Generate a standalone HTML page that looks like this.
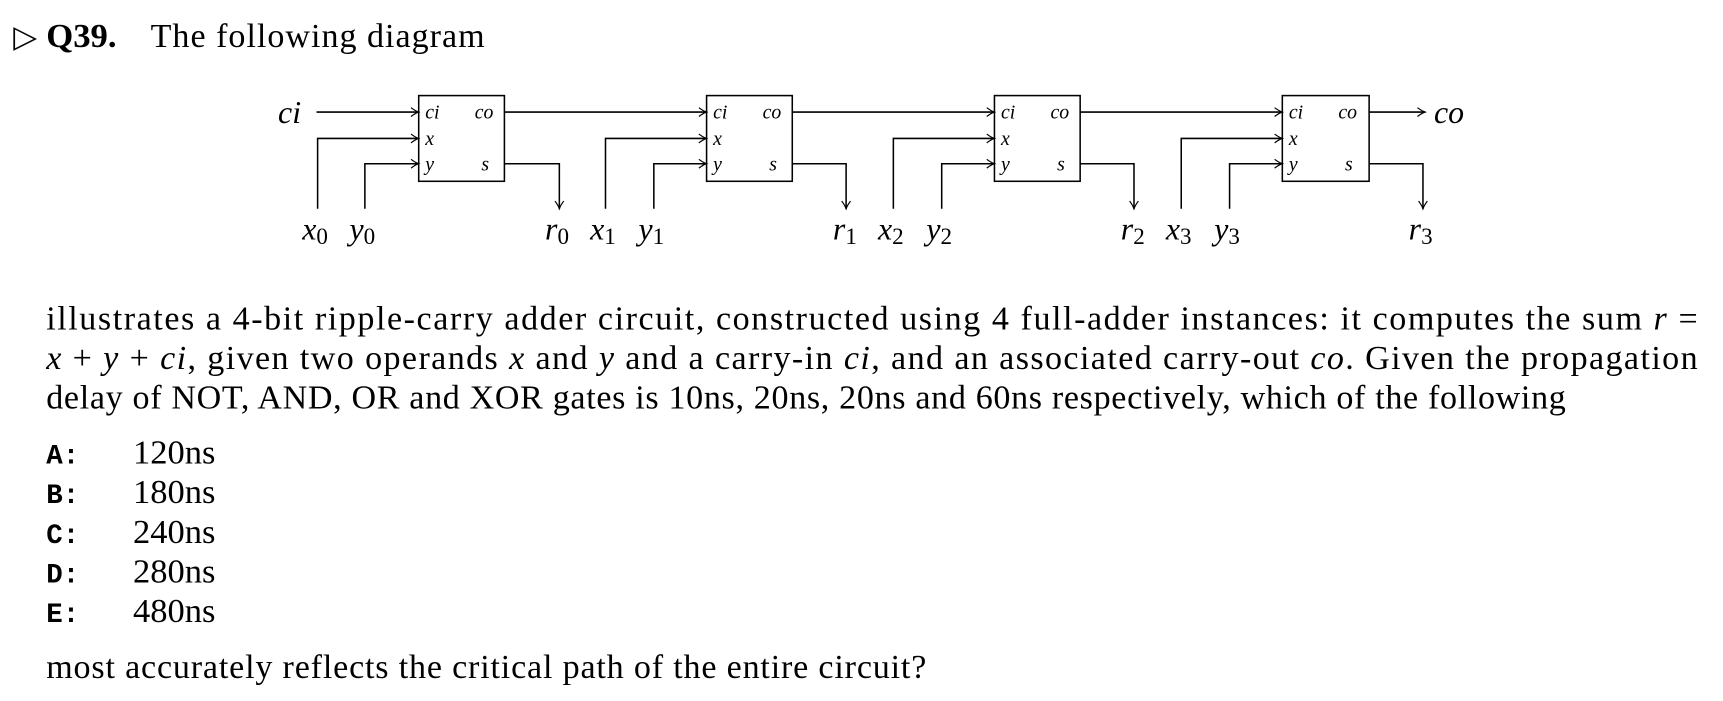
<!DOCTYPE html>
<html><head><meta charset="utf-8"><style>
html,body{margin:0;padding:0;background:#fff;width:1723px;height:701px;overflow:hidden}
svg{display:block}
text{font-family:"Liberation Serif",serif;fill:#000}
.i{font-style:italic}
.m{font-family:"Liberation Mono",monospace;font-weight:600}
</style></head><body>
<svg width="1723" height="701" viewBox="0 0 1568 638" xmlns="http://www.w3.org/2000/svg">
<defs>
<marker id="a" markerWidth="10" markerHeight="10" refX="8" refY="5" orient="auto" markerUnits="userSpaceOnUse">
<path d="M1,1 Q5,4 8,5 Q5,6 1,9" fill="none" stroke="#000" stroke-width="1.1"/>
</marker>
</defs>
<text x="12" y="43" font-size="28">▷</text>
<text x="42" y="43" font-size="31" font-weight="bold" textLength="64" lengthAdjust="spacingAndGlyphs">Q39.</text>
<text x="137" y="43" font-size="31" textLength="304">The following diagram</text>

<g stroke="#000" stroke-width="1.4" fill="none">
<rect x="381" y="87" width="78" height="78"/>
<rect x="643" y="87" width="78" height="78"/>
<rect x="905" y="87" width="78" height="78"/>
<rect x="1167" y="87" width="79" height="78"/>
<path d="M288,102 H381" marker-end="url(#a)"/>
<path d="M459,102 H643" marker-end="url(#a)"/>
<path d="M721,102 H905" marker-end="url(#a)"/>
<path d="M983,102 H1167" marker-end="url(#a)"/>
<path d="M1246,102 H1297" marker-end="url(#a)"/>
<path d="M289,190 V126 H381" marker-end="url(#a)"/>
<path d="M332,190 V149 H381" marker-end="url(#a)"/>
<path d="M551,190 V126 H643" marker-end="url(#a)"/>
<path d="M595,190 V149 H643" marker-end="url(#a)"/>
<path d="M813,190 V126 H905" marker-end="url(#a)"/>
<path d="M857,190 V149 H905" marker-end="url(#a)"/>
<path d="M1075,190 V126 H1167" marker-end="url(#a)"/>
<path d="M1119,190 V149 H1167" marker-end="url(#a)"/>
<path d="M459,149 H509 V190" marker-end="url(#a)"/>
<path d="M721,149 H770 V190" marker-end="url(#a)"/>
<path d="M983,149 H1032 V190" marker-end="url(#a)"/>
<path d="M1246,149 H1295 V190" marker-end="url(#a)"/>
</g>

<g font-size="18">
<text class="i" x="387" y="108">ci</text><text class="i" x="432" y="108">co</text><text class="i" x="387" y="132">x</text><text class="i" x="387" y="155">y</text><text class="i" x="438" y="155">s</text>
<text class="i" x="649" y="108">ci</text><text class="i" x="694" y="108">co</text><text class="i" x="649" y="132">x</text><text class="i" x="649" y="155">y</text><text class="i" x="700" y="155">s</text>
<text class="i" x="911" y="108">ci</text><text class="i" x="956" y="108">co</text><text class="i" x="911" y="132">x</text><text class="i" x="911" y="155">y</text><text class="i" x="962" y="155">s</text>
<text class="i" x="1173" y="108">ci</text><text class="i" x="1218" y="108">co</text><text class="i" x="1173" y="132">x</text><text class="i" x="1173" y="155">y</text><text class="i" x="1224" y="155">s</text>
</g>
<g font-size="29">
<text class="i" x="253" y="112">ci</text>
<text class="i" x="1305" y="112">co</text>
<text x="275" y="218"><tspan class="i">x</tspan><tspan font-size="21" dy="4">0</tspan></text>
<text x="318" y="218"><tspan class="i">y</tspan><tspan font-size="21" dy="4">0</tspan></text>
<text x="496" y="218"><tspan class="i">r</tspan><tspan font-size="21" dy="4">0</tspan></text>
<text x="537" y="218"><tspan class="i">x</tspan><tspan font-size="21" dy="4">1</tspan></text>
<text x="581" y="218"><tspan class="i">y</tspan><tspan font-size="21" dy="4">1</tspan></text>
<text x="758" y="218"><tspan class="i">r</tspan><tspan font-size="21" dy="4">1</tspan></text>
<text x="799" y="218"><tspan class="i">x</tspan><tspan font-size="21" dy="4">2</tspan></text>
<text x="843" y="218"><tspan class="i">y</tspan><tspan font-size="21" dy="4">2</tspan></text>
<text x="1020" y="218"><tspan class="i">r</tspan><tspan font-size="21" dy="4">2</tspan></text>
<text x="1061" y="218"><tspan class="i">x</tspan><tspan font-size="21" dy="4">3</tspan></text>
<text x="1105" y="218"><tspan class="i">y</tspan><tspan font-size="21" dy="4">3</tspan></text>
<text x="1282" y="218"><tspan class="i">r</tspan><tspan font-size="21" dy="4">3</tspan></text>
</g>

<g font-size="31">
<text x="42" y="300" textLength="1503" lengthAdjust="spacing">illustrates a 4-bit ripple-carry adder circuit, constructed using 4 full-adder instances: it computes the sum <tspan class="i">r</tspan> =</text>
<text x="42" y="336" textLength="1503" lengthAdjust="spacing"><tspan class="i">x</tspan> + <tspan class="i">y</tspan> + <tspan class="i">ci</tspan>, given two operands <tspan class="i">x</tspan> and <tspan class="i">y</tspan> and a carry-in <tspan class="i">ci</tspan>, and an associated carry-out <tspan class="i">co</tspan>. Given the propagation</text>
<text x="42" y="372" textLength="1383" lengthAdjust="spacing">delay of NOT, AND, OR and XOR gates is 10ns, 20ns, 20ns and 60ns respectively, which of the following</text>
<text class="m" x="42" y="422" font-size="25">A:</text><text x="121" y="422" textLength="75" lengthAdjust="spacingAndGlyphs">120ns</text>
<text class="m" x="42" y="458" font-size="25">B:</text><text x="121" y="458" textLength="75" lengthAdjust="spacingAndGlyphs">180ns</text>
<text class="m" x="42" y="494" font-size="25">C:</text><text x="121" y="494" textLength="75" lengthAdjust="spacingAndGlyphs">240ns</text>
<text class="m" x="42" y="530" font-size="25">D:</text><text x="121" y="530" textLength="75" lengthAdjust="spacingAndGlyphs">280ns</text>
<text class="m" x="42" y="566" font-size="25">E:</text><text x="121" y="566" textLength="75" lengthAdjust="spacingAndGlyphs">480ns</text>
<text x="42" y="617" textLength="801" lengthAdjust="spacing">most accurately reflects the critical path of the entire circuit?</text>
</g>
</svg>
</body></html>
